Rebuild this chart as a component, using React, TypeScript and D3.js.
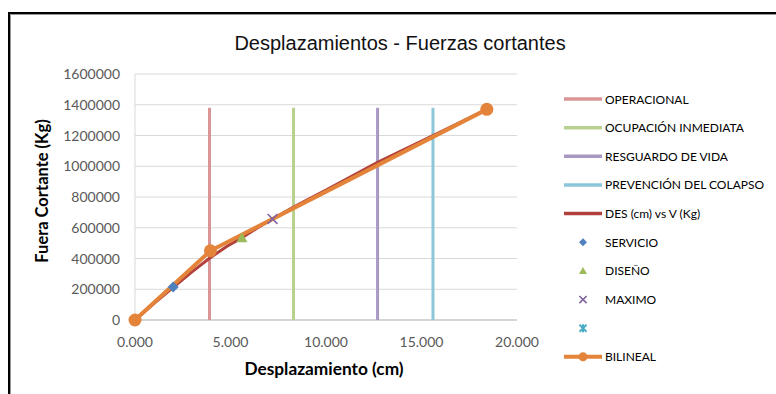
import React from 'react';
import * as d3 from 'd3';

// chart data
const xTicks = [0, 5, 10, 15, 20];
const yTicks = [0, 200000, 400000, 600000, 800000, 1000000, 1200000, 1400000, 1600000];

const levelNames = ['OPERACIONAL', 'OCUPACIÓN INMEDIATA', 'RESGUARDO DE VIDA', 'PREVENCIÓN DEL COLAPSO'];
const levelX = [3.9, 8.3, 12.7, 15.6];
const levelTop = 1380000;

const desX = [0, 1, 2, 3, 3.9, 4.8, 5.6, 6.4, 7.2, 8.3, 10, 12.7, 15.6, 18.4];
const desY = [0, 108000, 213000, 315000, 402000, 478000, 535000, 598000, 657000, 735000, 845000, 1025000, 1200000, 1368000];

const servicio = [2.0, 215000];
const diseno = [5.6, 535000];
const maximo = [7.2, 657000];

const bilX = [0, 3.95, 18.42];
const bilY = [0, 450000, 1370000];

const FONT = 'Lato, "Open Sans", sans-serif';

const levelColors = ['#D99694', '#B9D18E', '#A899C4', '#8CC6DA'];
const desColor = '#B2403C';
const bilColor = '#E3843A';

export default function App() {
  const x = d3.scaleLinear().domain([0, 20]).range([135, 517]);
  const y = d3.scaleLinear().domain([0, 1600000]).range([320, 74]);

  const line = d3.line<number>().x((_, i) => x(desX[i])).y((d) => y(d));
  const bilLine = d3.line<number>().x((_, i) => x(bilX[i])).y((d) => y(d));

  const legendY = (i: number) => 99 + i * 28.65;
  const lx0 = 564, lx1 = 602, tx = 605, mx = 583;

  const legendItems = [
    ...levelNames.map((n, i) => ({ name: n, kind: 'line', color: levelColors[i] })),
    { name: 'DES (cm) vs V (Kg)', kind: 'line', color: desColor },
    { name: 'SERVICIO', kind: 'diamond', color: '#4F81BD' },
    { name: 'DISEÑO', kind: 'triangle', color: '#9BBB59' },
    { name: 'MAXIMO', kind: 'x', color: '#8064A2' },
    { name: '', kind: 'star', color: '#4BACC6' },
    { name: 'BILINEAL', kind: 'bil', color: bilColor },
  ];

  const marker = (kind: string, color: string, cx: number, cy: number, s = 1) => {
    if (kind === 'diamond')
      return <path d={`M${cx},${cy - 5 * s}L${cx + 5 * s},${cy}L${cx},${cy + 5 * s}L${cx - 5 * s},${cy}Z`} fill={color} />;
    if (kind === 'triangle')
      return <path d={`M${cx},${cy - 5 * s}L${cx + 5 * s},${cy + 4 * s}L${cx - 5 * s},${cy + 4 * s}Z`} fill={color} />;
    if (kind === 'x')
      return (
        <path d={`M${cx - 4.5 * s},${cy - 4.5 * s}L${cx + 4.5 * s},${cy + 4.5 * s}M${cx + 4.5 * s},${cy - 4.5 * s}L${cx - 4.5 * s},${cy + 4.5 * s}`}
          stroke={color} strokeWidth={1.6} />
      );
    if (kind === 'star')
      return (
        <path d={`M${cx - 3.5},${cy - 3.5}L${cx + 3.5},${cy + 3.5}M${cx + 3.5},${cy - 3.5}L${cx - 3.5},${cy + 3.5}M${cx},${cy - 4}L${cx},${cy + 4}`}
          stroke={color} strokeWidth={2} />
      );
    return null;
  };

  return (
    <svg width={776} height={394} style={{ position: 'absolute', left: 0, top: 0, background: '#fff' }}>
      <rect x={0} y={0} width={776} height={394} fill="#fff" />
      {/* outer border */}
      <path d="M9,394V13H776" fill="none" stroke="#000" strokeWidth={2} />
      <path d="M10.5,394V14.5H776" fill="none" stroke="#999" strokeWidth={1} />

      <text x={400} y={50} textAnchor="middle" fontFamily='"Liberation Sans", Arial, sans-serif' fontSize={20} fill="#111">
        Desplazamientos - Fuerzas cortantes
      </text>

      {/* gridlines */}
      {yTicks.map((t) => (
        <line key={t} x1={x(0)} x2={x(20)} y1={y(t)} y2={y(t)} stroke="#D9D9D9" strokeWidth={1} />
      ))}
      <line x1={x(0)} x2={x(0)} y1={y(0)} y2={y(1600000)} stroke="#D9D9D9" strokeWidth={1} />
      <line x1={x(0)} x2={x(20)} y1={y(0)} y2={y(0)} stroke="#BFBFBF" strokeWidth={1} />

      {yTicks.map((t) => (
        <text key={t} x={120} y={y(t) + 5} textAnchor="end" fontFamily={FONT} fontSize={14} fill="#595959">
          {t}
        </text>
      ))}
      {xTicks.map((t) => (
        <text key={t} x={x(t)} y={347} textAnchor="middle" fontFamily={FONT} fontSize={14} fill="#595959">
          {d3.format('.3f')(t)}
        </text>
      ))}

      <text x={324} y={375} textAnchor="middle" fontFamily={FONT} fontSize={17.3} fontWeight="bold" fill="#000">
        Desplazamiento (cm)
      </text>
      <text transform="translate(48,191) rotate(-90)" textAnchor="middle" fontFamily={FONT} fontSize={16.5} fontWeight="bold" fill="#000">
        Fuera Cortante (Kg)
      </text>

      {/* performance levels */}
      {levelX.map((v, i) => (
        <line key={i} x1={x(v)} x2={x(v)} y1={y(0)} y2={y(levelTop)} stroke={levelColors[i]} strokeWidth={3} />
      ))}

      <path d={line(desY) || ''} fill="none" stroke={desColor} strokeWidth={3} />
      <path d={bilLine(bilY) || ''} fill="none" stroke={bilColor} strokeWidth={4} strokeLinejoin="round" />
      {bilY.map((v, i) => (
        <circle key={i} cx={x(bilX[i])} cy={y(v)} r={6.5} fill={bilColor} />
      ))}

      {marker('diamond', '#4F81BD', x(servicio[0]), y(servicio[1]), 1.1)}
      {marker('triangle', '#9BBB59', x(diseno[0]), y(diseno[1]), 1.1)}
      {marker('x', '#8064A2', x(maximo[0]), y(maximo[1]), 1.1)}

      {/* legend */}
      {legendItems.map((it, i) => {
        const cy = legendY(i);
        return (
          <g key={i}>
            {it.kind === 'line' && <line x1={lx0} x2={lx1} y1={cy} y2={cy} stroke={it.color} strokeWidth={3.5} />}
            {it.kind === 'bil' && (
              <g>
                <line x1={lx0} x2={lx1} y1={cy} y2={cy} stroke={it.color} strokeWidth={4} />
                <circle cx={mx} cy={cy} r={4.5} fill={it.color} />
              </g>
            )}
            {marker(it.kind, it.color, mx, cy, 0.8)}
            <text x={tx} y={cy + 4.5} fontFamily={FONT} fontSize={12} fill="#000">
              {it.name}
            </text>
          </g>
        );
      })}
    </svg>
  );
}
